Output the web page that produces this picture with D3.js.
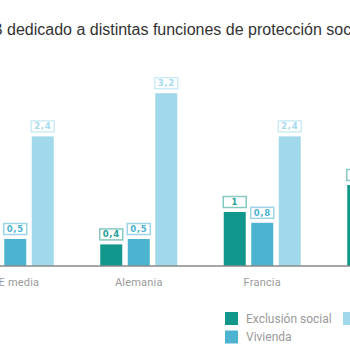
<!DOCTYPE html>
<html>
<head>
<meta charset="utf-8">
<script src="https://cdn.jsdelivr.net/npm/d3@7"></script>
<style>
  body { margin: 0; background: #fff; }
  svg { display: block; overflow: hidden; }
</style>
</head>
<body>
<svg></svg>
<script>
// data (groups that fall outside the crop are left null)
const categories = ["UE media", "Alemania", "Francia", "Países Bajos"];
const series = ["Exclusión social", "Vivienda", "Familia e hijos"];
const exclusion = [null, 0.4, 1, 1.5];
const vivienda = [0.5, 0.5, 0.8, null];
const familia = [2.4, 3.2, 2.4, null];
const valueLabels = [
  [null, "0,4", "1", "1,5"],
  ["0,5", "0,5", "0,8", null],
  ["2,4", "3,2", "2,4", null]
];

const titlePrefix = "Gasto en % del PIB ";
const titleText = titlePrefix + "dedicado a distintas funciones de protección social";

const svgWidth = 350;
const svgHeight = 350;

const svg = d3.select("svg")
    .attr("width", svgWidth)
    .attr("height", svgHeight);

const barColors = ["#12978c", "#4cb3d0", "#a2d8ec"];
const boxColors = ["#86c9c3", "#9fd4e6", "#cdebf5"];
const textColors = ["#27a095", "#4cb3d0", "#a6daee"];

const baseY = 266;
const x = d3.scaleBand()
    .domain(categories)
    .range([-46.5, 447.5]);

const xInner = d3.scaleBand()
    .domain(series)
    .range([0, 77])
    .paddingInner(0.2);

const y = d3.scaleLinear()
    .domain([0, 3.2])
    .range([baseY, baseY - 3.2 * 54]);

const values = [exclusion, vivienda, familia];

// title, shifted so that the crop starts inside "PIB"
const title = svg.append("text")
    .attr("y", 35)
    .attr("font-family", "Liberation Sans, Arial, sans-serif")
    .attr("font-size", 16)
    .attr("fill", "#333")
    .text(titleText);
const prefixWidth = title.node().getSubStringLength(0, titlePrefix.length);
title.attr("x", 7 - prefixWidth);

// bars
const g = svg.append("g");
series.forEach((s, si) => {
  const data = categories.map((c, i) => ({cat: c, v: values[si][i], label: valueLabels[si][i]}))
      .filter(d => d.v != null);

  const grp = g.append("g");
  const bx = d => x(d.cat) + (x.bandwidth() - 77) / 2 + xInner(s);

  grp.selectAll("rect.bar")
      .data(data)
      .join("rect")
      .attr("class", "bar")
      .attr("x", bx)
      .attr("y", d => y(d.v))
      .attr("width", xInner.bandwidth())
      .attr("height", d => baseY - y(d.v))
      .attr("fill", barColors[si]);

  const lab = grp.selectAll("g.lab")
      .data(data.filter(d => d.label))
      .join("g")
      .attr("class", "lab")
      .attr("transform", d => "translate(" + (bx(d) + xInner.bandwidth() / 2) + "," + (y(d.v) - 10) + ")");

  lab.append("rect")
      .attr("x", -11.5)
      .attr("y", -5.5)
      .attr("width", 23)
      .attr("height", 11)
      .attr("fill", "#fff")
      .attr("stroke", boxColors[si])
      .attr("stroke-width", 1.5);

  lab.append("text")
      .attr("text-anchor", "middle")
      .attr("dy", "0.35em")
      .attr("font-family", "DejaVu Sans, sans-serif")
      .attr("font-weight", "bold")
      .attr("font-size", 8.5)
      .attr("letter-spacing", 0.6)
      .attr("fill", textColors[si])
      .text(d => d.label);
});

// baseline axis
svg.append("g")
    .attr("transform", "translate(0," + baseY + ")")
    .call(d3.axisBottom(x).tickSize(0).tickPadding(12))
    .call(ax => ax.select(".domain")
        .attr("d", "M-60,0H460")
        .attr("stroke", "#8a8a8a")
        .attr("stroke-width", 1.5))
    .call(ax => ax.selectAll("text")
        .attr("font-family", "Roboto, sans-serif")
        .attr("font-size", 11)
        .attr("letter-spacing", 0.2)
        .attr("fill", "#9a9a9a"));

// legend
const legend = svg.append("g")
    .attr("transform", "translate(225,312)");
const legendPos = [[0, 0], [0, 18.5], [118, 0]];
series.forEach((s, si) => {
  const item = legend.append("g")
      .attr("transform", "translate(" + legendPos[si][0] + "," + legendPos[si][1] + ")");
  item.append("rect")
      .attr("width", 13)
      .attr("height", 13)
      .attr("fill", barColors[si]);
  item.append("text")
      .attr("x", 21)
      .attr("y", 6.5)
      .attr("dy", "0.35em")
      .attr("font-family", "Roboto, sans-serif")
      .attr("font-size", 12)
      .attr("fill", "#9a9a9a")
      .text(s);
});
</script>
</body>
</html>
